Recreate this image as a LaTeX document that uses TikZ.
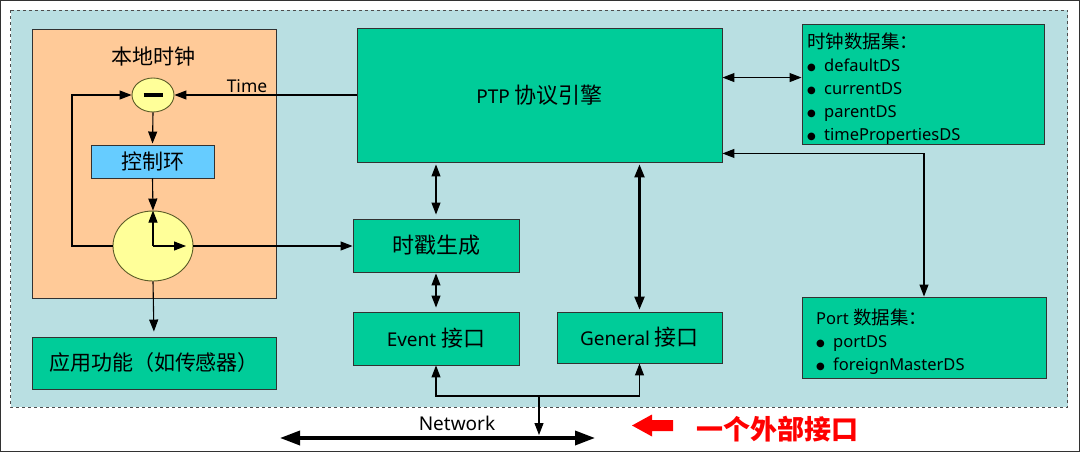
\documentclass[tikz,border=0pt]{standalone}
\usepackage{fontspec}
\setmainfont{Noto Sans}
\newfontfamily\cjkf{Noto Sans CJK SC}
\newfontfamily\djv{DejaVu Sans}
\newcommand\zh[1]{{\cjkf #1}}
\newcommand\bul{\makebox[17pt][l]{\raisebox{1pt}{\djv\fontsize{10}{10}\selectfont ●}}}
\usetikzlibrary{arrows.meta,shapes.geometric,calc}
\definecolor{bgc}{RGB}{185,223,226}
\definecolor{orng}{RGB}{255,202,152}
\definecolor{grn}{RGB}{0,204,153}
\definecolor{ylw}{RGB}{255,255,153}
\definecolor{ctlc}{RGB}{102,204,255}
\definecolor{edge}{RGB}{50,50,50}
\tikzset{
  box/.style={draw=edge, line width=0.9pt, fill=grn, inner sep=0pt, text=black},
  ell/.style={ellipse, draw=edge!80!yellow, line width=0.9pt, fill=ylw, inner sep=0pt},
  arr/.style={-{Triangle[length=12pt,width=9pt]}, line width=1.1pt, draw=black},
  darr/.style={{Triangle[length=12pt,width=9pt]}-{Triangle[length=12pt,width=9pt]}, line width=1.1pt, draw=black},
  tdarr/.style={{Triangle[length=13pt,width=10pt]}-{Triangle[length=13pt,width=10pt]}, line width=2.2pt, draw=black},
  netarr/.style={{Triangle[length=20pt,width=14pt]}-{Triangle[length=20pt,width=14pt]}, line width=3.5pt, draw=black},
  lat/.style={font=\fontsize{19}{22}\selectfont},
  lst/.style={font=\fontsize{16.5}{23}\selectfont, align=left, inner sep=0pt, anchor=west},
}
\begin{document}
\begin{tikzpicture}[x=1pt,y=-1pt]
\useasboundingbox (0,0) rectangle (1080,452);
\draw[edge, line width=1pt] (0.5,0.5) rectangle (1079.5,451.5);
\draw[dashed, fill=bgc, draw=gray!60!black, line width=0.9pt] (10.5,10.5) rectangle (1067.5,407);

% local clock block
\node[draw=edge, line width=0.9pt, fill=orng, minimum width=244pt, minimum height=269pt, inner sep=0pt] (lc) at (154,163.5) {};
\node[font=\fontsize{21}{24}\selectfont\cjkf] (lct) at (153,57) {本地时钟};
\node[ell, minimum width=42pt, minimum height=34pt] (mn) at (153,95) {\rule{19pt}{3.5pt}};
\node[draw=edge, line width=0.9pt, fill=ctlc, minimum width=123pt, minimum height=33pt, inner sep=0pt, font=\fontsize{21}{24}\selectfont\cjkf] (ctl) at (152.5,161.5) {控制环};
\node[ell, minimum width=80pt, minimum height=70pt] (clk) at (153,246) {};
\node[box, minimum width=244pt, minimum height=52pt, font=\fontsize{21}{24}\selectfont\cjkf] (app) at (154,363) {应用功能（如传感器）};

% main blocks
\node[box, minimum width=365pt, minimum height=134pt, lat] (ptp) at (539.5,95) {PTP \zh{\fontsize{22}{24}\selectfont 协议引擎}};
\node[box, minimum width=166pt, minimum height=53pt, font=\fontsize{22}{24}\selectfont\cjkf] (ts) at (436,245.5) {时戳生成};
\node[box, minimum width=166pt, minimum height=53pt, lat] (ev) at (436,338.5) {Event \zh{\fontsize{22}{24}\selectfont 接口}};
\node[box, minimum width=165pt, minimum height=51pt, lat] (gen) at (639.5,337.5) {General \zh{\fontsize{22}{24}\selectfont 接口}};

% data sets
\node[box, minimum width=242pt, minimum height=120pt] (cds) at (923,84) {};
\node[lst] (cdst) at (807,89)
 {\zh{\fontsize{18.5}{23}\selectfont 时钟数据集：}\\
  \bul defaultDS\\
  \bul currentDS\\
  \bul parentDS\\
  \bul timePropertiesDS};
\node[box, minimum width=244pt, minimum height=81pt] (pds) at (924,337.5) {};
\node[lst] (pdst) at (816,341.5)
 {Port \zh{\fontsize{18.5}{23}\selectfont 数据集：}\\
  \bul portDS\\
  \bul foreignMasterDS};

% labels
\node[font=\fontsize{17.5}{20}\selectfont] (tl) at (247,86) {Time};
\node[font=\fontsize{19}{22}\selectfont] (nw) at (457,423) {Network};
\node[font=\fontsize{27}{30}\selectfont\cjkf\bfseries, text=red] (ext) at (777,429) {一个外部接口};

% coordinates
\coordinate (lp) at (72,246);
\coordinate (hand) at (186,246);
\coordinate (nj) at (539,396);
\coordinate (nt) at (539,435);
\coordinate (nl) at (280,438);
\coordinate (nr) at (595,438);

% connectors inside local clock
\draw[arr] (ptp.west) -- (mn.east);
\draw[arr, shorten >=1pt] (mn.south) -- (ctl.north);
\draw[arr] (ctl.south) -- (clk.north);
\draw[arr] (clk.center) -- (clk.north);
\draw[arr] (clk.center) -- (hand);
\draw[arr] (clk.west) -- (lp) |- (mn.west);
\draw[arr] (clk.east) -- (clk.east -| ts.west);
\draw[arr, shorten >=5pt] (clk.south) -- (app.north);

% connectors of the engine
\draw[darr] ([yshift=-50pt]ptp.north east) -- ([yshift=-54pt]cds.north west);
\draw[darr] ([yshift=9pt]ptp.south east) -| (pds.north);
\draw[darr, shorten <=2pt, shorten >=4pt] (ts.north |- ptp.south) -- (ts.north);
\draw[darr, shorten <=1pt, shorten >=4pt] (ts.south) -- (ev.north);
\draw[tdarr, shorten <=2pt, shorten >=2pt] (gen.north |- ptp.south) -- (gen.north);
\draw[darr] (ev.south) |- (nj) -| (gen.south);
\draw[arr] (nj) -- (nt);
\draw[netarr] (nl) -- (nr);

% red pointer
\fill[red] (632,425.5) -- (652,414.5) -- (652,420) -- (673,420) -- (673,431) -- (652,431) -- (652,436.5) -- cycle;
\end{tikzpicture}
\end{document}
